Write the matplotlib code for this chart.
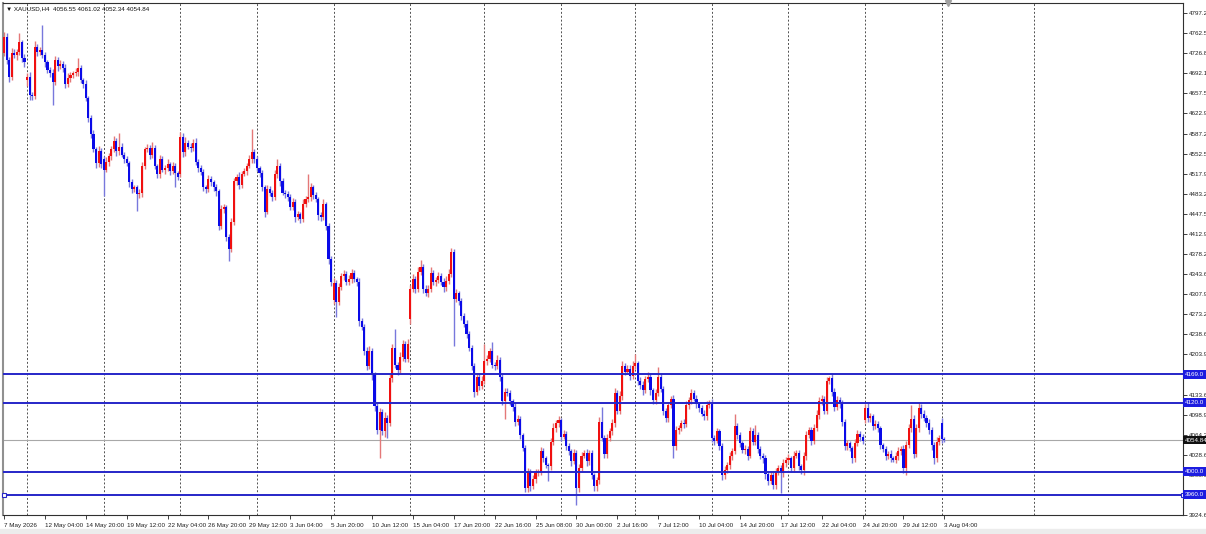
import matplotlib
matplotlib.use('Agg')
import matplotlib.pyplot as plt
from matplotlib.patches import Rectangle
import numpy as np

plt.rcParams['font.family'] = ['Liberation Sans Narrow', 'Liberation Sans', 'DejaVu Sans']
FS = 4.5

# XAUUSD H4 closes, one per bar (7 May 2026 12:00 .. 3 Aug 2026 04:00)
closes = [
    4756, 4716, 4686, 4728, 4724, 4730, 4747, 4719, 4712, 4686,
    4655, 4652, 4738, 4730, 4733, 4724, 4712, 4698, 4693, 4678,
    4716, 4705, 4709, 4702, 4673, 4685, 4690, 4692, 4695, 4702,
    4681, 4674, 4650, 4615, 4586, 4560, 4536, 4557, 4534, 4525,
    4539, 4548, 4560, 4575, 4557, 4565, 4551, 4543, 4537, 4503,
    4491, 4494, 4482, 4485, 4531, 4560, 4563, 4551, 4563, 4531,
    4517, 4543, 4525, 4528, 4534, 4522, 4532, 4519, 4512, 4582,
    4555, 4572, 4565, 4562, 4572, 4539, 4528, 4520, 4494, 4491,
    4508, 4503, 4494, 4487, 4427, 4456, 4460, 4408, 4387, 4434,
    4505, 4512, 4498, 4518, 4522, 4532, 4543, 4555, 4543, 4528,
    4519, 4494, 4452, 4491, 4485, 4477, 4517, 4531, 4505, 4485,
    4482, 4477, 4460, 4469, 4442, 4447, 4439, 4465, 4473, 4477,
    4494, 4480, 4473, 4446, 4442, 4465, 4427, 4369, 4330, 4328,
    4295, 4321, 4340, 4343, 4330, 4335, 4345, 4335, 4330, 4262,
    4252, 4210, 4184, 4209, 4169, 4114, 4072, 4103, 4070, 4093,
    4084, 4162, 4214, 4186, 4176, 4200, 4222, 4196, 4222, 4318,
    4335, 4318, 4347, 4356, 4318, 4311, 4318, 4345, 4330, 4333,
    4340, 4330, 4321, 4332, 4343, 4382, 4300, 4310, 4296, 4271,
    4257, 4240, 4214, 4184, 4139, 4165, 4149, 4158, 4193, 4196,
    4209, 4186, 4183, 4194, 4165, 4122, 4139, 4136, 4122, 4113,
    4087, 4092, 4063, 4041, 3971, 3999, 3975, 3988, 3997, 4000,
    4035, 4023, 4011, 4009, 4052, 4075, 4084, 4089, 4061, 4066,
    4044, 4035, 4018, 4032, 3971, 4006, 4028, 4032, 4018, 4032,
    3994, 3975, 3985, 4087, 4058, 4030, 4058, 4070, 4084, 4136,
    4106, 4132, 4184, 4174, 4179, 4167, 4184, 4188, 4158, 4150,
    4141, 4161, 4165, 4141, 4124, 4136, 4165, 4144, 4106, 4093,
    4115, 4127, 4044, 4072, 4075, 4084, 4082, 4115, 4124, 4136,
    4127, 4117, 4110, 4101, 4096, 4115, 4118, 4058, 4054, 4070,
    4044, 3994, 4003, 4011, 4027, 4035, 4079, 4063, 4049, 4037,
    4040, 4028, 4070, 4052, 4063, 4040, 4028, 4023, 3995, 3983,
    3994, 3976, 3999, 4006, 3997, 4015, 4020, 4023, 4006, 4028,
    4032, 4009, 4002, 4027, 4063, 4072, 4054, 4075, 4098, 4122,
    4127, 4106, 4157, 4162, 4139, 4112, 4124, 4118, 4087, 4044,
    4049, 4041, 4023, 4049, 4065, 4061, 4054, 4110, 4093, 4096,
    4079, 4082, 4075, 4046, 4039, 4028, 4030, 4023, 4021, 4028,
    4035, 4040, 4006, 4046, 4075, 4092, 4031, 4075, 4110, 4101,
    4093, 4084, 4072, 4046, 4023, 4052, 4058, 4056.55, 4054.84,
]

# wick length above / below the body, in dollars
upper_wick = [
    8, 6, 5, 9, 6, 5, 15, 4, 6, 7,
    8, 4, 10, 6, 5, 43, 6, 4, 5, 7,
    6, 5, 7, 4, 6, 8, 5, 4, 6, 17,
    5, 4, 6, 3, 5, 7, 4, 9, 5, 6,
    7, 5, 6, 8, 5, 24, 6, 4, 5, 3,
    6, 5, 4, 7, 8, 5, 6, 4, 10, 5,
    4, 7, 6, 5, 9, 4, 6, 5, 3, 8,
    6, 9, 5, 7, 6, 8, 4, 5, 6, 4,
    7, 5, 4, 6, 5, 8, 6, 4, 5, 7,
    6, 5, 8, 4, 6, 5, 7, 40, 5, 6,
    4, 6, 5, 8, 5, 4, 7, 12, 6, 5,
    4, 6, 5, 7, 4, 6, 5, 8, 6, 40,
    7, 5, 6, 4, 5, 8, 4, 5, 6, 9,
    5, 7, 6, 8, 5, 6, 7, 5, 4, 6,
    5, 4, 6, 9, 5, 4, 6, 8, 5, 10,
    6, 9, 7, 34, 5, 8, 6, 5, 9, 7,
    8, 5, 9, 12, 5, 6, 7, 10, 5, 6,
    7, 5, 6, 8, 9, 6, 5, 8, 4, 6,
    5, 7, 4, 6, 5, 7, 6, 8, 28, 7,
    6, 16, 5, 8, 5, 4, 7, 6, 5, 4,
    6, 7, 5, 4, 6, 8, 5, 6, 7, 5,
    8, 6, 5, 4, 7, 9, 6, 7, 5, 6,
    5, 6, 4, 7, 5, 8, 6, 5, 7, 6,
    5, 4, 6, 8, 25, 6, 7, 5, 8, 10,
    6, 8, 9, 5, 7, 6, 8, 17, 5, 6,
    7, 6, 8, 5, 4, 7, 16, 6, 5, 4,
    6, 5, 7, 8, 6, 5, 7, 8, 6, 7,
    5, 6, 4, 5, 6, 8, 7, 9, 5, 6,
    4, 5, 6, 5, 7, 6, 22, 5, 6, 4,
    6, 5, 8, 5, 18, 6, 5, 4, 6, 5,
    6, 5, 7, 6, 5, 7, 6, 8, 5, 7,
    6, 5, 4, 7, 8, 6, 5, 7, 9, 8,
    6, 5, 7, 5, 9, 6, 7, 5, 6, 4,
    6, 5, 4, 7, 8, 6, 5, 7, 9, 6,
    5, 7, 6, 5, 4, 6, 5, 7, 4, 6,
    7, 5, 6, 8, 7, 23, 6, 8, 9, 7,
    6, 5, 7, 5, 6, 8, 6, 9, 4.47,
]
lower_wick = [
    5, 7, 9, 6, 5, 8, 6, 7, 8, 10,
    9, 6, 5, 7, 6, 5, 8, 6, 7, 40,
    6, 8, 5, 7, 6, 5, 8, 6, 4, 7,
    6, 8, 5, 7, 6, 5, 8, 6, 7, 46,
    5, 7, 6, 4, 8, 6, 5, 7, 6, 9,
    7, 5, 29, 6, 7, 5, 4, 8, 6, 5,
    7, 6, 5, 8, 6, 7, 5, 25, 6, 5,
    8, 6, 5, 7, 4, 6, 8, 5, 7, 6,
    5, 7, 6, 8, 7, 5, 6, 8, 21, 6,
    5, 7, 6, 5, 4, 6, 5, 7, 6, 5,
    7, 6, 9, 5, 6, 7, 5, 6, 8, 5,
    6, 7, 5, 6, 8, 5, 7, 6, 5, 4,
    6, 7, 5, 8, 6, 5, 7, 9, 8, 7,
    26, 6, 5, 7, 6, 5, 8, 6, 7, 9,
    6, 8, 7, 5, 9, 8, 7, 49, 6, 9,
    26, 5, 7, 6, 8, 5, 7, 6, 5, 8,
    6, 7, 5, 6, 8, 6, 7, 5, 6, 7,
    5, 6, 8, 7, 6, 5, 81, 6, 7, 8,
    6, 7, 5, 8, 9, 6, 7, 5, 6, 7,
    5, 6, 7, 5, 8, 6, 30, 5, 6, 7,
    8, 6, 7, 5, 6, 7, 8, 6, 7, 5,
    6, 7, 5, 26, 6, 5, 7, 6, 8, 5,
    7, 6, 8, 5, 29, 7, 6, 5, 8, 6,
    7, 9, 8, 6, 5, 7, 6, 5, 6, 7,
    5, 6, 7, 6, 5, 8, 6, 5, 7, 6,
    7, 5, 6, 8, 6, 7, 5, 6, 8, 7,
    6, 5, 21, 6, 7, 5, 6, 5, 7, 6,
    5, 6, 7, 5, 6, 7, 5, 6, 7, 5,
    6, 8, 7, 5, 6, 7, 5, 6, 7, 5,
    6, 7, 5, 6, 5, 7, 6, 8, 7, 6,
    5, 7, 6, 5, 34, 6, 7, 5, 6, 7,
    5, 6, 7, 8, 6, 5, 7, 6, 5, 6,
    7, 5, 6, 5, 7, 6, 5, 7, 8, 6,
    7, 5, 8, 6, 5, 7, 6, 5, 6, 7,
    6, 5, 7, 6, 5, 8, 6, 7, 5, 6,
    7, 6, 8, 12, 5, 6, 7, 5, 6, 7,
    5, 6, 7, 8, 9, 6, 5, 7, 2.5,
]

first_open = 4728
# Monday bars that open away from the previous close
gap_bars = [9, 39, 69, 129, 159, 337, 367]
gap_opens = [4681, 4543, 4517, 4298, 4265, 4089, 4084]

level_prices = [4169.0, 4120.0, 4000.0, 3960.0]
level_labels = ['4169.0', '4120.0', '4000.0', '3960.0']
bid_price = 4054.84
bid_label = '4054.84'
header = '\u25bc XAUUSD,H4  4056.55 4061.02 4052.34 4054.84'

price_ticks = [4797.2, 4762.5, 4726.8, 4692.1, 4657.5, 4622.9, 4587.2, 4552.5,
               4517.9, 4483.2, 4447.5, 4412.9, 4378.2, 4343.6, 4307.9, 4273.2,
               4238.6, 4203.9, 4133.6, 4098.9, 4064.2, 4028.6, 3993.9, 3924.6]
date_labels = ['7 May 2026', '12 May 04:00', '14 May 20:00', '19 May 12:00',
               '22 May 04:00', '26 May 20:00', '29 May 12:00', '3 Jun 04:00',
               '5 Jun 20:00', '10 Jun 12:00', '15 Jun 04:00', '17 Jun 20:00',
               '22 Jun 16:00', '25 Jun 08:00', '30 Jun 00:00', '2 Jul 16:00',
               '7 Jul 12:00', '10 Jul 04:00', '14 Jul 20:00', '17 Jul 12:00',
               '22 Jul 04:00', '24 Jul 20:00', '29 Jul 12:00', '3 Aug 04:00']
week_bars = [9, 39, 69, 99, 129, 159, 188, 218, 247, 277, 307, 337, 367, 403]

n = len(closes)
idx = np.arange(n)
opens = [first_open] + closes[:-1]
for b, o in zip(gap_bars, gap_opens):
    opens[b] = o
o = np.array(opens, dtype=float)
c = np.array(closes, dtype=float)
hi = np.maximum(o, c) + np.array(upper_wick)
lo = np.minimum(o, c) - np.array(lower_wick)
up = c > o
dn = ~up

W, H = 1206, 534
fig = plt.figure(figsize=(W / 100, H / 100), dpi=100)
fig.patch.set_facecolor('white')
ax = fig.add_axes([3 / W, 19 / H, 1180 / W, 512 / H])
ax.set_facecolor('white')

for g in week_bars:
    ax.axvline(g, color='#505050', lw=0.7, ls=(0, (2, 2)), zorder=1)

ax.vlines(idx[up], lo[up], hi[up], color='#e47878', lw=1.0, zorder=2)
ax.vlines(idx[dn], lo[dn], hi[dn], color='#7878dc', lw=1.0, zorder=2)
body = np.maximum(np.abs(c - o), 1.5)
bottom = np.minimum(o, c)
ax.bar(idx[up], body[up], bottom=bottom[up], width=0.82, color='#f01010', lw=0, zorder=3)
ax.bar(idx[dn], body[dn], bottom=bottom[dn], width=0.82, color='#0a0ae8', lw=0, zorder=3)

ax.axhline(bid_price, color='#a8a8a8', lw=0.8, zorder=1.5)
for p in level_prices:
    ax.axhline(p, color='#2626c8', lw=1.4, zorder=4)

ax.set_xlim(-0.4, 461.4)
ax.set_ylim(3928.1, 4814.5)

ax.yaxis.tick_right()
ax.set_yticks(price_ticks)
ax.set_yticklabels(['%.1f' % p for p in price_ticks])
ax.tick_params(axis='y', labelsize=FS, length=3, width=0.6, pad=1.5, colors='#202020')
ax.set_xticks(idx[::16])
ax.set_xticklabels(date_labels)
ax.tick_params(axis='x', labelsize=FS, length=3, width=0.6, pad=2.5, colors='#202020')
for t in ax.get_xticklabels():
    t.set_ha('left')

ytr = ax.get_yaxis_transform()
for p, lab in zip(level_prices, level_labels):
    ax.text(1.0015, p, lab, transform=ytr, ha='left', va='center', fontsize=FS,
            color='white', clip_on=False, zorder=6,
            bbox=dict(boxstyle='square,pad=0.3', fc='#1c1ce0', ec='none'))
ax.text(1.0015, bid_price, bid_label, transform=ytr, ha='left', va='center', fontsize=FS,
        color='white', clip_on=False, zorder=6,
        bbox=dict(boxstyle='square,pad=0.3', fc='#101010', ec='none'))

# selected-line markers and chart-shift marker
ax.plot([0.0], [level_prices[-1]], marker='s', ms=2.5, mfc='white', mec='#2626c8',
        mew=0.8, clip_on=False, zorder=5)
ax.plot([1.0], [level_prices[-1]], marker='s', ms=2.5, mfc='white', mec='#2626c8',
        mew=0.8, transform=ytr, clip_on=False, zorder=5)
ax.plot([n + 0.5], [4814.5], marker='v', ms=4, color='#a0a0a0', clip_on=False, zorder=5)

ax.text(0.0025, 0.993, header, transform=ax.transAxes, ha='left', va='top',
        fontsize=FS, color='#101010')

for s in ax.spines.values():
    s.set_color('#303030')
    s.set_linewidth(0.8)
ax.spines['left'].set_color('#909090')
ax.spines['left'].set_linewidth(1.5)

fig.patches.append(Rectangle((0, 0), 1, 5 / H, transform=fig.transFigure,
                             color='#ececec', zorder=0))

fig.savefig('out.png', dpi=100)
